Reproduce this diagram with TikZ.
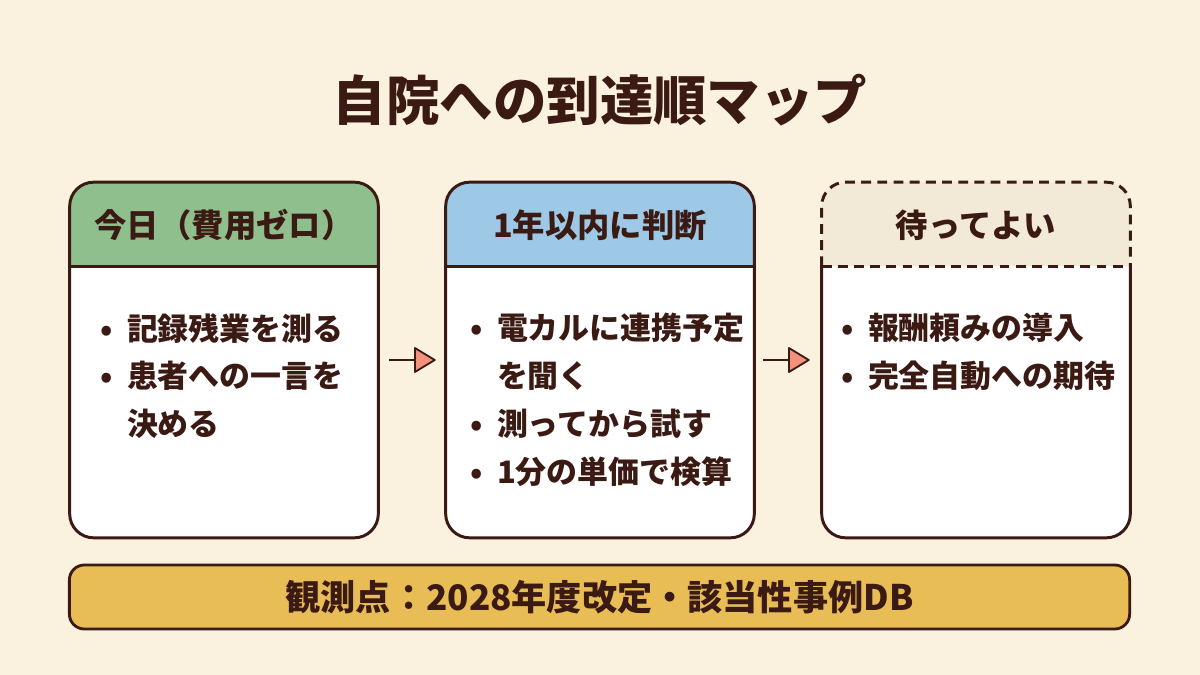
\documentclass[tikz,border=0pt]{standalone}
\usepackage{fontspec}
\setmainfont{Noto Sans CJK JP}
\usepackage{tikz}
\usetikzlibrary{arrows.meta,positioning}
\definecolor{paper}{HTML}{FAF1DF}
\definecolor{ink}{HTML}{3B1A14}
\definecolor{headgreen}{HTML}{8FBF8C}
\definecolor{headblue}{HTML}{9DC9E6}
\definecolor{headbeige}{HTML}{F3E9D7}
\definecolor{bargold}{HTML}{E8BD55}
\definecolor{tipsalmon}{HTML}{F2917C}
\newcommand{\bul}{\makebox[24pt][l]{\hspace{5pt}•}}
\newcommand{\cont}{\hspace*{24pt}}

\begin{document}
\begin{tikzpicture}[x=0.025cm,y=-0.025cm,
  cardbg/.style={fill=white,minimum width=7.7cm,minimum height=8.875cm,inner sep=0pt,rounded corners=0.6cm},
  cardedge/.style={draw=ink,line width=2.1pt},
  solidedge/.style={},
  dashedge/.style={dash pattern=on 7pt off 4.5pt},
  headtext/.style={font=\fontsize{23}{28}\selectfont\bfseries,text=ink},
  listtext/.style={anchor=north west,align=left,inner sep=0pt,font=\fontsize{22}{34}\selectfont\bfseries,text=ink},
  flow/.style={draw=ink,line width=1.6pt,-{Triangle[length=16pt,width=19pt,fill=tipsalmon,line width=1.3pt,round]}},
  bar/.style={draw=ink,line width=2pt,fill=bargold,rounded corners=0.375cm,minimum width=26.5cm,minimum height=1.6cm,font=\fontsize{25}{28}\selectfont\bfseries,text=ink}]
  \fill[paper] (0,0) rectangle (1200,675);
  \node[font=\fontsize{38}{44}\selectfont\bfseries,text=ink] (title) at (600,100) {自院への到達順マップ};
  % the three cards
  \foreach \nm/\cx/\col/\lin/\head in {today/224/headgreen/solidedge/今日（費用ゼロ）,year/600/headblue/solidedge/1年以内に判断,later/976/headbeige/dashedge/待ってよい}{
    \node[cardbg] (\nm) at (\cx,360) {};
    \begin{scope}
      \clip[rounded corners=0.6cm] (\nm.north west) rectangle (\nm.south east);
      \fill[\col] (\nm.north west) rectangle ([yshift=-2.1cm]\nm.north east);
    \end{scope}
    \coordinate (\nm-sw) at ([yshift=-2.1cm]\nm.north west);
    \coordinate (\nm-se) at ([yshift=-2.1cm]\nm.north east);
    \draw[cardedge,\lin] (\nm-sw) -- (\nm-se);
    \draw[cardedge,\lin,rounded corners=0.6cm] (\nm-sw) -- (\nm.north west) -- (\nm.north east) -- (\nm-se);
    \draw[cardedge,rounded corners=0.6cm] (\nm-sw) -- (\nm.south west) -- (\nm.south east) -- (\nm-se);
    \node[headtext] (\nm-head) at (\cx,225) {\head};
  }
  \node[listtext] (today-list) at (93,313) {\bul 記録残業を測る\\ \bul 患者への一言を\\ \cont 決める};
  \node[listtext] (year-list) at (463,313) {\bul 電カルに連携予定\\ \cont を聞く\\ \bul 測ってから試す\\ \bul 1分の単価で検算};
  \node[listtext] (later-list) at (834,313) {\bul 報酬頼みの導入\\ \bul 完全自動への期待};
  % arrows
  \draw[flow] ([xshift=0.27cm]today.east) -- ([xshift=-0.25cm]year.west);
  \draw[flow] ([xshift=0.22cm]year.east) -- ([xshift=-0.3cm]later.west);
  \node[bar] (watch) at (599.5,597) {観測点：2028年度改定・該当性事例DB};
\end{tikzpicture}
\end{document}
